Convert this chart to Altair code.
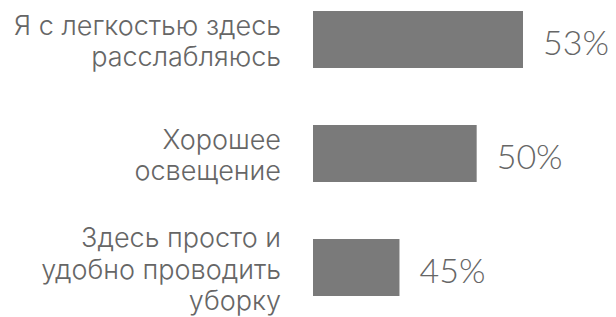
import altair as alt
import pandas as pd

categories = ["Я с легкостью здесь\nрасслабляюсь", "Хорошее\nосвещение", "Здесь просто и\nудобно проводить\nуборку"]
values = [53, 50, 45]
value_labels = ["53%", "50%", "45%"]
baseline = 39.4

df = pd.DataFrame({
    "cat": categories,
    "v": values,
    "lab": value_labels,
    "base": [baseline] * len(values),
    "n": [c.count("\n") + 1 for c in categories],
})

FONT_CAT = "Inter"
FONT_VAL = "Lato"
BAR = "#7a7a7a"
TXT = "#666666"
LH = 31.5

y = alt.Y("cat:N", sort=categories, axis=None,
          scale=alt.Scale(range=[-25.5, 316.5], paddingInner=0.5, paddingOuter=0.25))
xs = alt.Scale(domain=[baseline, 53], range=[305, 515], zero=False, nice=False)

base = alt.Chart(df)

bars = base.mark_bar(color=BAR).encode(
    x=alt.X("base:Q", scale=xs, axis=None),
    x2="v:Q",
    y=y,
)

vals = base.mark_text(align="left", baseline="middle", dx=20, dy=5,
                      font=FONT_VAL, fontSize=34, fontWeight=300, color=TXT).encode(
    x=alt.X("v:Q", scale=xs, axis=None),
    y=y,
    text="lab:N",
)

cat_layers = []
for n in sorted(set(df["n"])):
    cat_layers.append(
        base.transform_filter(alt.datum.n == n).mark_text(
            align="right", baseline="middle", lineBreak="\n", lineHeight=LH,
            dy=-(n - 1) * LH / 2 + 3,
            font=FONT_CAT, fontSize=27, fontWeight=300, color=TXT,
        ).encode(
            x=alt.value(273),
            y=y,
            text="cat:N",
        )
    )

chart = alt.layer(bars, vals, *cat_layers).properties(
    width=600, height=309, autosize=alt.AutoSizeParams(type="none"), padding=0
).configure_view(stroke=None)

chart.save("out.html", embed_options={"renderer": "svg", "actions": False})
